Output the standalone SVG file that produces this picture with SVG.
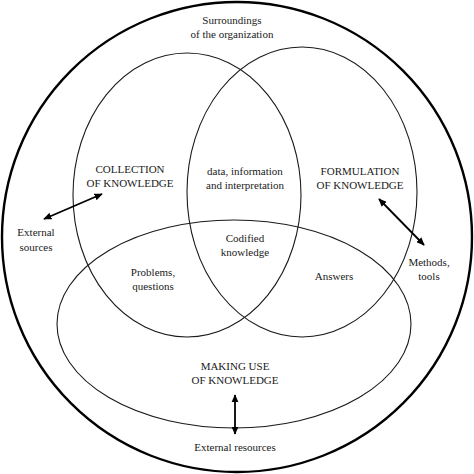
<svg xmlns="http://www.w3.org/2000/svg" width="474" height="474" viewBox="0 0 474 474">
<style>
.sh{fill:none;stroke:#1a1a1a;stroke-width:1.1}
.outer{fill:none;stroke:#000;stroke-width:2.4}
.t{font-family:"Liberation Serif","Times New Roman",serif;font-size:11px;fill:#1a1a1a;text-anchor:middle}
.ar{stroke:#000;stroke-width:1.8;fill:none;marker-start:url(#ah);marker-end:url(#ah)}
</style>
<defs>
<marker id="ah" viewBox="0 0 10 10" refX="9" refY="5" markerWidth="4.6" markerHeight="4" orient="auto-start-reverse" markerUnits="strokeWidth" preserveAspectRatio="none">
<path d="M0,0 L10,5 L0,10 z" fill="#000"/>
</marker>
</defs>
<rect width="474" height="474" fill="#fff"/>
<g id="surroundings">
<circle class="outer" cx="237" cy="237" r="235"/>
<text class="t" x="232" y="24">Surroundings</text>
<text class="t" x="232" y="38">of the organization</text>
</g>
<g id="collection">
<ellipse class="sh" cx="187" cy="195" rx="114" ry="142"/>
<text class="t" x="130" y="173">COLLECTION</text>
<text class="t" x="130" y="187">OF KNOWLEDGE</text>
</g>
<g id="formulation">
<ellipse class="sh" cx="302" cy="192" rx="115" ry="145"/>
<text class="t" x="360" y="175">FORMULATION</text>
<text class="t" x="360" y="189">OF KNOWLEDGE</text>
</g>
<g id="making-use">
<ellipse class="sh" cx="234" cy="324" rx="177" ry="104"/>
<text class="t" x="235" y="370">MAKING USE</text>
<text class="t" x="235" y="384">OF KNOWLEDGE</text>
</g>
<g id="data">
<text class="t" x="245" y="175">data, information</text>
<text class="t" x="245" y="189">and interpretation</text>
</g>
<g id="codified">
<text class="t" x="245" y="242">Codified</text>
<text class="t" x="245" y="256">knowledge</text>
</g>
<g id="problems">
<text class="t" x="153" y="276">Problems,</text>
<text class="t" x="153" y="290">questions</text>
</g>
<g id="answers">
<text class="t" x="334" y="280">Answers</text>
</g>
<g id="external-sources">
<text class="t" x="36" y="236">External</text>
<text class="t" x="36" y="251">sources</text>
</g>
<g id="methods">
<text class="t" x="429" y="266">Methods,</text>
<text class="t" x="429" y="280">tools</text>
</g>
<g id="external-resources">
<text class="t" x="235" y="451">External resources</text>
</g>
<g id="connectors">
<line class="ar" x1="44" y1="219" x2="102" y2="194"/>
<line class="ar" x1="379" y1="199" x2="424" y2="245"/>
<line class="ar" x1="235" y1="395" x2="235" y2="434"/>
</g>
</svg>
